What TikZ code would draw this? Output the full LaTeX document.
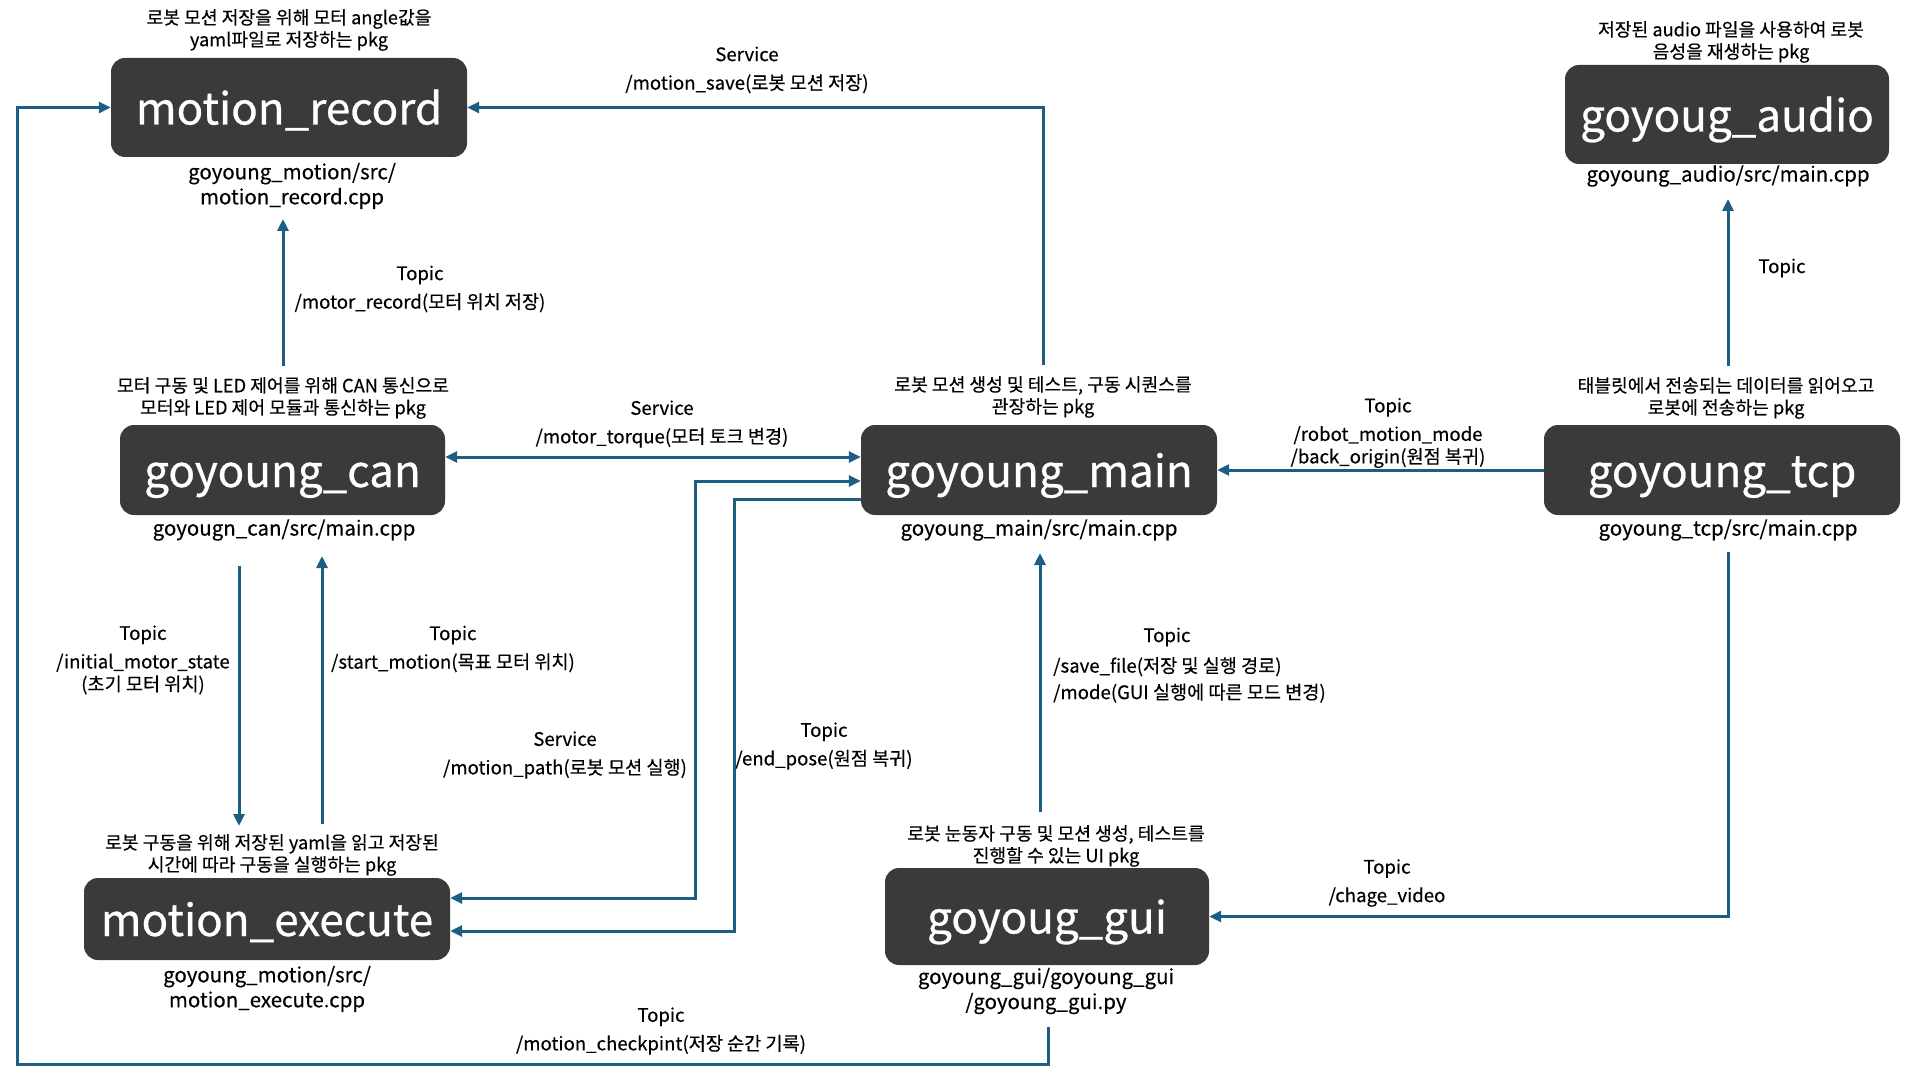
\documentclass[tikz,border=0pt]{standalone}
\usepackage{fontspec}
\setmainfont{Noto Sans CJK KR}[FakeBold=0.35]
\newfontfamily\titlefont{Noto Sans CJK KR}[FakeBold=0.6]
\usetikzlibrary{arrows.meta}
\definecolor{boxgray}{HTML}{3A3A3A}
\definecolor{linkblue}{HTML}{1D5F83}
\begin{document}
\begin{tikzpicture}[x=1pt,y=-1pt,
  pkg/.style={fill=boxgray, rounded corners=14pt, text=white, font=\titlefont\fontsize{44}{50}\selectfont, inner sep=0pt, text height=37pt, text depth=3pt},
  desc/.style={align=center, font=\fontsize{18.2}{22}\selectfont, inner sep=0pt},
  file/.style={align=center, font=\fontsize{20.5}{25}\selectfont, inner sep=0pt},
  lbl/.style={align=center, font=\fontsize{18.6}{22.5}\selectfont, inner sep=0pt},
  arr/.style={draw=linkblue, line width=3pt, -{Triangle[length=12pt,width=11pt]}},
  darr/.style={draw=linkblue, line width=3pt, {Triangle[length=12pt,width=11pt]}-{Triangle[length=12pt,width=11pt]}}]
\useasboundingbox (0,0) rectangle (1928,1067);
\fill[white] (0,0) rectangle (1928,1067);

% boxes
\node[pkg, minimum width=356pt, minimum height=99pt] (rec) at (289,107.5) {motion\_record};
\node[pkg, minimum width=324pt, minimum height=99pt] (aud) at (1727,114.5) {goyoug\_audio};
\node[pkg, minimum width=325pt, minimum height=90pt] (can) at (282.5,470) {goyoung\_can};
\node[pkg, minimum width=356pt, minimum height=90pt] (main) at (1039,470) {goyoung\_main};
\node[pkg, minimum width=356pt, minimum height=90pt] (tcp) at (1722,470) {goyoung\_tcp};
\node[pkg, minimum width=366pt, minimum height=82pt] (exe) at (267,919) {motion\_execute};
\node[pkg, minimum width=324pt, minimum height=97pt] (gui) at (1047,916.5) {goyoug\_gui};

% descriptions
\node[desc] (recd) at (289,30) {로봇 모션 저장을 위해 모터 angle값을\\yaml파일로 저장하는 pkg};
\node[file] (recf) at (292,186) {goyoung\_motion/src/\\motion\_record.cpp};
\node[desc] (audd) at (1731,42) {저장된 audio 파일을 사용하여 로봇\\음성을 재생하는 pkg};
\node[file] (audf) at (1728,176) {goyoung\_audio/src/main.cpp};
\node[desc] (cand) at (283,398) {모터 구동 및 LED 제어를 위해 CAN 통신으로\\모터와 LED 제어 모듈과 통신하는 pkg};
\node[file] (canf) at (284,530) {goyougn\_can/src/main.cpp};
\node[desc] (maind) at (1043,397) {로봇 모션 생성 및 테스트, 구동 시퀀스를\\관장하는 pkg};
\node[file] (mainf) at (1039,530) {goyoung\_main/src/main.cpp};
\node[desc] (tcpd) at (1726,398) {태블릿에서 전송되는 데이터를 읽어오고\\로봇에 전송하는 pkg};
\node[file] (tcpf) at (1728,530) {goyoung\_tcp/src/main.cpp};
\node[desc] (exed) at (272,855) {로봇 구동을 위해 저장된 yaml을 읽고 저장된\\시간에 따라 구동을 실행하는 pkg};
\node[file] (exef) at (267,989) {goyoung\_motion/src/\\motion\_execute.cpp};
\node[desc] (guid) at (1056,846) {로봇 눈동자 구동 및 모션 생성, 테스트를\\진행할 수 있는 UI pkg};
\node[file] (guif) at (1046,991) {goyoung\_gui/goyoung\_gui\\/goyoung\_gui.py};

% connector coordinates
\coordinate (msA) at (1043,365);
\coordinate (loopA) at (1048,1027);
\coordinate (loopB) at (1048,1064);
\coordinate (loopC) at (17,1064);
\coordinate (mrA) at (283,366);
\coordinate (mrB) at (283,219);
\coordinate (tq) at (0,457);
\coordinate (imA) at (239,566);
\coordinate (imB) at (239,826);
\coordinate (smA) at (322,824);
\coordinate (smB) at (322,556);
\coordinate (mpY) at (0,481);
\coordinate (mpX) at (695,0);
\coordinate (mpE) at (0,898);
\coordinate (epY) at (0,499);
\coordinate (epX) at (734,0);
\coordinate (epE) at (0,931);
\coordinate (sfA) at (1040,812);
\coordinate (sfB) at (1040,553);
\coordinate (auA) at (1728,366);
\coordinate (auB) at (1728,199);
\coordinate (tgA) at (1728,552);

% connectors
\draw[arr] (msA) |- (rec.east);
\draw[arr] (loopA) -- (loopB) -- (loopC) |- (rec.west);
\draw[arr] (mrA) -- (mrB);
\draw[darr] (can.east |- tq) -- (main.west |- tq);
\draw[arr] (tcp.west) -- (main.east);
\draw[arr] (imA) -- (imB);
\draw[arr] (smA) -- (smB);
\draw[darr] (main.west |- mpY) -- (mpX |- mpY) -- (mpX |- mpE) -- (exe.east |- mpE);
\draw[arr] (main.west |- epY) -- (epX |- epY) -- (epX |- epE) -- (exe.east |- epE);
\draw[arr] (sfA) -- (sfB);
\draw[arr] (auA) -- (auB);
\draw[arr] (tgA) |- (gui.east);

% edge labels
\node[lbl] (l1) at (747,70) {Service\\[6pt]/motion\_save(로봇 모션 저장)};
\node[lbl] (l2) at (420,289) {Topic\\[6pt]/motor\_record(모터 위치 저장)};
\node[lbl] (l3) at (662,424) {Service\\[6pt]/motor\_torque(모터 토크 변경)};
\node[lbl] (l4) at (1388,433) {Topic\\[6pt]/robot\_motion\_mode\\/back\_origin(원점 복귀)};
\node[lbl] (l5) at (1782,268) {Topic};
\node[lbl] (l6) at (143,660) {Topic\\[6pt]/initial\_motor\_state\\(초기 모터 위치)};
\node[lbl] (l7) at (453,649) {Topic\\[6pt]/start\_motion(목표 모터 위치)};
\node[lbl] (l8) at (565,755) {Service\\[6pt]/motion\_path(로봇 모션 실행)};
\node[lbl] (l9) at (824,746) {Topic\\[6pt]/end\_pose(원점 복귀)};
\node[lbl] (l10) at (1167,637) {Topic};
\node[lbl, align=left, anchor=west] (l11) at (1053,680) {/save\_file(저장 및 실행 경로)\\[4pt]/mode(GUI 실행에 따른 모드 변경)};
\node[lbl] (l12) at (1387,883) {Topic\\[6pt]/chage\_video};
\node[lbl] (l13) at (661,1031) {Topic\\[6pt]/motion\_checkpint(저장 순간 기록)};
\end{tikzpicture}
\end{document}
